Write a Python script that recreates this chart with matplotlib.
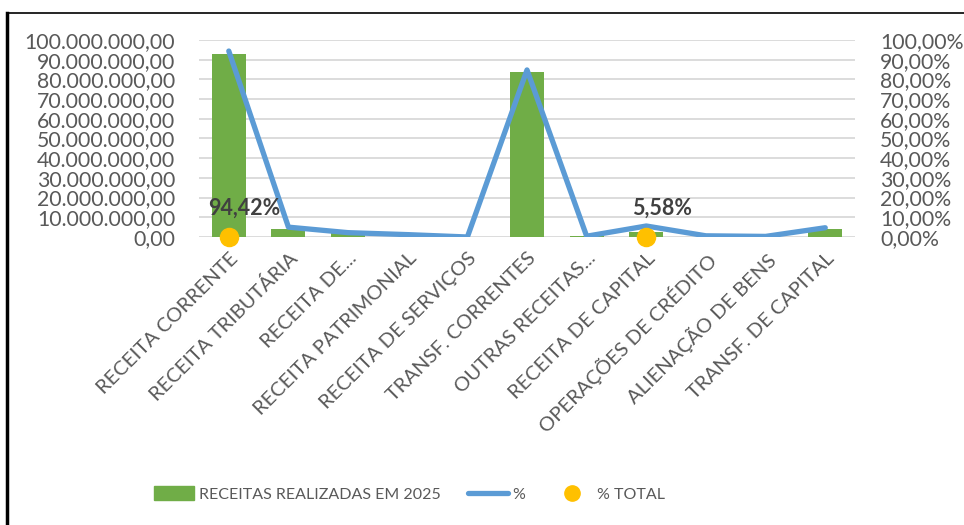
import matplotlib
matplotlib.use("Agg")
import matplotlib.pyplot as plt
from matplotlib.lines import Line2D
from matplotlib.patches import Patch
from matplotlib.ticker import FuncFormatter, MultipleLocator
import numpy as np

categories = [
    "RECEITA CORRENTE",
    "RECEITA TRIBUTÁRIA",
    "RECEITA DE...",
    "RECEITA PATRIMONIAL",
    "RECEITA DE SERVIÇOS",
    "TRANSF. CORRENTES",
    "OUTRAS RECEITAS...",
    "RECEITA DE CAPITAL",
    "OPERAÇÕES DE CRÉDITO",
    "ALIENAÇÃO DE BENS",
    "TRANSF. DE CAPITAL",
]
receitas = [93.0e6, 4.0e6, 2.0e6, 0.0, 0.0, 83.6e6, 0.3e6, 2.4e6, 0.0, 0.0, 4.0e6]
percent = [94.4, 5.0, 2.2, 1.2, 0.0, 84.8, 0.4, 5.58, 0.6, 0.3, 4.7]
total_idx = [0, 7]
total_labels = ["94,42%", "5,58%"]

GREEN = "#70ad47"
BLUE = "#5b9bd5"
GOLD = "#ffc000"
TEXT = "#595959"
FONT = "Lato"

plt.rcParams["font.family"] = [FONT, "DejaVu Sans"]


def money(v, _pos):
    s = f"{v:,.2f}"
    return s.replace(",", "X").replace(".", ",").replace("X", ".")


def pct(v, _pos):
    return f"{v:.2f}%".replace(".", ",")


fig = plt.figure(figsize=(9.64, 5.25), dpi=100)
ax = fig.add_axes([0.2064, 0.5486, 0.887 - 0.2064, 0.9238 - 0.5486])
ax2 = ax.twinx()

x = np.arange(len(categories))
ax.bar(x, receitas, width=0.57, color=GREEN, zorder=2)
ax.set_xlim(-0.5, len(categories) - 0.5)
ax.set_ylim(0, 100e6)
ax.yaxis.set_major_locator(MultipleLocator(10e6))
ax.yaxis.set_major_formatter(FuncFormatter(money))
ax.grid(axis="y", color="#d9d9d9", linewidth=1.3, zorder=0)
ax.set_axisbelow(True)

ax2.plot(x, percent, color=BLUE, linewidth=3.8, solid_capstyle="round", zorder=3)
ax2.scatter(x[total_idx], [0] * len(total_idx), s=170, color=GOLD, zorder=4, clip_on=False)
for i, lab in zip(total_idx, total_labels):
    ax2.annotate(lab, (x[i], 0), xytext=(11, 13), textcoords="offset points",
                 ha="center", va="bottom", fontsize=15.5, fontweight="bold", color="#404040")
ax2.set_ylim(0, 100)
ax2.yaxis.set_major_locator(MultipleLocator(10))
ax2.yaxis.set_major_formatter(FuncFormatter(pct))

for a in (ax, ax2):
    for sp in a.spines.values():
        sp.set_visible(False)
    a.tick_params(length=0, labelsize=15.3, labelcolor=TEXT)

ax.tick_params(axis="y", pad=17)
ax2.tick_params(axis="y", pad=18)

ax.set_xticks(x)
ax.set_xticklabels(categories, rotation=45, ha="right", va="top", rotation_mode="anchor",
                   fontsize=14.5, color=TEXT)
ax.tick_params(axis="x", pad=9)

handles = [
    Patch(color=GREEN, label="RECEITAS REALIZADAS EM 2025"),
    Line2D([], [], color=BLUE, linewidth=3.8, solid_capstyle="round", label="%"),
    Line2D([], [], marker="o", linestyle="none", color=GOLD, markersize=11, label="% TOTAL"),
]
leg = fig.legend(handles=handles, loc="center", bbox_to_anchor=(0.425, 0.059), ncol=3,
                 frameon=False, fontsize=11.5, handlelength=2.5, handleheight=0.9,
                 handletextpad=0.3, columnspacing=1.7)
for t in leg.get_texts():
    t.set_color(TEXT)

# chart border (only top and left show in the crop)
fig.add_artist(Line2D([7 / 964, 7 / 964], [0, 1 - 13 / 525], transform=fig.transFigure,
                      color="black", linewidth=2.5))
fig.add_artist(Line2D([7 / 964, 1], [1 - 13 / 525, 1 - 13 / 525], transform=fig.transFigure,
                      color="black", linewidth=1.2))

fig.savefig("out.png", dpi=100, facecolor="white")
plt.close(fig)
